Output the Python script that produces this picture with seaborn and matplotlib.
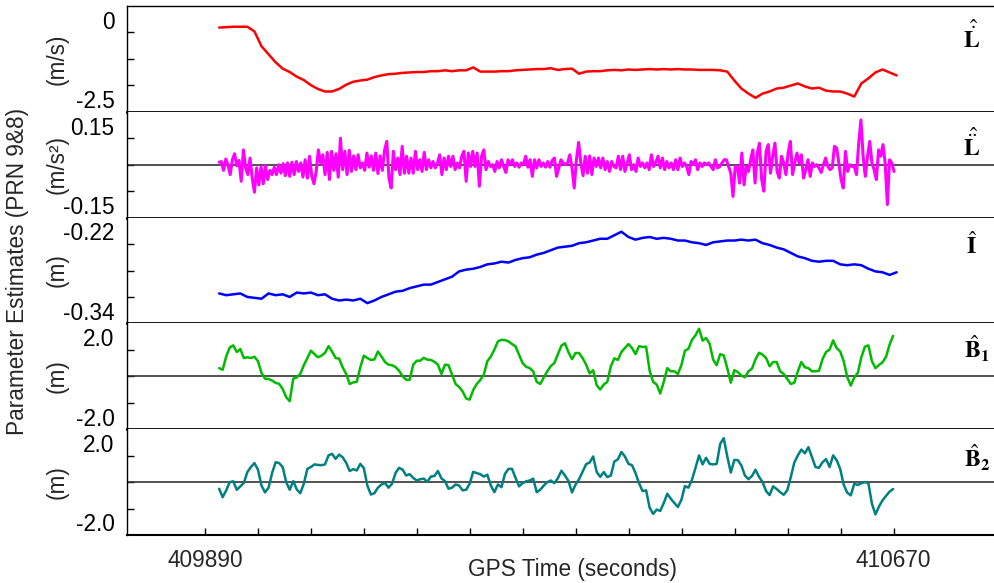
import numpy as np
import pandas as pd
import matplotlib
matplotlib.use("Agg")
import matplotlib.pyplot as plt
import seaborn as sns

# =====================================================
# DATA
# =====================================================
t_start = 409905.5          # GPS time of first sample (s)
step_ldot = 8.0             # sample spacing of each series (s)
step_lddot = 2.5
step_iono = 8.0
step_amb = 4.0

# L-dot (m/s)
ldot = [
    -0.51, -0.50, -0.49, -0.49, -0.49, -0.60, -0.95, -1.14, -1.33, -1.48,
    -1.56, -1.67, -1.75, -1.87, -1.96, -2.02, -2.02, -1.96, -1.86, -1.79,
    -1.76, -1.74, -1.68, -1.64, -1.61, -1.60, -1.58, -1.57, -1.56, -1.56,
    -1.54, -1.54, -1.52, -1.54, -1.52, -1.52, -1.45, -1.55, -1.55, -1.55,
    -1.54, -1.54, -1.52, -1.51, -1.50, -1.49, -1.49, -1.47, -1.51, -1.49,
    -1.48, -1.60, -1.55, -1.54, -1.54, -1.52, -1.51, -1.52, -1.50, -1.51,
    -1.50, -1.49, -1.50, -1.49, -1.50, -1.49, -1.50, -1.50, -1.51, -1.51,
    -1.51, -1.52, -1.55, -1.76, -1.95, -2.07, -2.17, -2.07, -2.02, -1.95,
    -1.93, -1.88, -1.83, -1.90, -1.95, -1.93, -2.00, -2.02, -2.02, -2.07,
    -2.14, -1.83, -1.71, -1.57, -1.50, -1.57, -1.64,
]

# L-double-dot (m/s^2)
lddot = [
    0.007, 0.009, -0.016, 0.016, 0.000, -0.028, 0.014, 0.031, -0.003, 0.012,
    -0.047, 0.042, -0.009, -0.028, 0.019, -0.038, -0.078, -0.009, -0.057, -0.005,
    -0.054, -0.003, -0.042, -0.016, -0.028, -0.007, -0.028, 0.000, -0.024, 0.003,
    -0.031, 0.005, -0.033, 0.007, -0.028, 0.009, -0.019, 0.005, -0.035, 0.014,
    -0.038, 0.024, -0.033, -0.054, -0.019, 0.042, 0.005, 0.028, -0.028, 0.035,
    -0.042, 0.038, -0.016, 0.031, -0.035, 0.075, -0.014, 0.038, -0.028, 0.041,
    -0.019, 0.025, -0.014, 0.028, -0.009, 0.005, -0.016, 0.033, -0.007, 0.025,
    -0.016, 0.033, -0.025, 0.025, -0.016, 0.041, 0.066, -0.038, -0.066, 0.038,
    -0.014, 0.019, -0.028, 0.052, -0.024, 0.024, -0.024, 0.019, -0.024, 0.038,
    -0.014, 0.014, -0.019, 0.035, -0.014, 0.014, -0.009, 0.009, -0.009, 0.005,
    0.028, -0.028, 0.019, -0.014, 0.024, -0.005, 0.024, -0.014, 0.005, -0.009,
    0.024, 0.038, -0.047, 0.033, -0.005, 0.038, -0.005, 0.033, -0.061, 0.024,
    0.042, -0.014, 0.009, -0.005, 0.000, -0.019, 0.009, -0.009, 0.014, -0.005,
    -0.022, 0.014, 0.000, 0.014, -0.005, 0.005, -0.007, 0.005, 0.000, 0.024,
    -0.007, 0.014, -0.033, 0.014, -0.009, 0.014, -0.005, 0.005, -0.007, 0.009,
    -0.007, 0.012, 0.019, -0.033, -0.009, 0.014, 0.005, 0.000, 0.005, 0.028,
    -0.009, -0.066, 0.014, 0.063, 0.005, -0.031, 0.024, -0.024, 0.025, -0.028,
    0.019, -0.005, 0.019, -0.009, 0.019, -0.014, 0.009, -0.019, 0.009, -0.005,
    -0.009, 0.024, -0.014, 0.024, -0.019, 0.005, 0.028, -0.014, 0.000, -0.019,
    0.019, -0.005, 0.005, -0.009, 0.005, -0.014, 0.028, -0.005, 0.007, 0.024,
    -0.009, 0.019, -0.014, 0.009, -0.009, 0.005, -0.014, 0.014, -0.014, 0.019,
    -0.005, 0.005, -0.005, -0.028, 0.009, 0.000, 0.014, -0.014, 0.005, -0.005,
    0.005, 0.000, 0.005, -0.005, -0.014, 0.014, -0.009, -0.005, 0.005, 0.014,
    0.014, -0.005, -0.024, -0.090, -0.005, -0.005, -0.052, 0.033, -0.057, -0.005,
    -0.019, 0.014, 0.042, -0.052, 0.033, 0.061, -0.042, -0.075, 0.038, 0.057,
    -0.024, 0.024, 0.061, -0.019, -0.038, 0.024, 0.005, -0.028, 0.033, 0.066,
    -0.028, 0.005, 0.033, 0.005, 0.028, -0.038, -0.014, 0.014, -0.033, 0.005,
    -0.005, 0.000, -0.009, -0.022, 0.000, 0.019, -0.005, -0.014, -0.009, 0.052,
    0.047, 0.005, -0.042, -0.066, 0.038, -0.019, 0.000, -0.005, -0.005, -0.028,
    0.061, 0.127, 0.024, -0.033, 0.024, 0.066, 0.005, -0.014, -0.042, 0.042,
    0.024, 0.057, 0.005, -0.113, 0.014, 0.005, -0.019,
]

# I (m)
iono = [
    -0.306, -0.308, -0.307, -0.306, -0.310, -0.311, -0.312, -0.306, -0.308, -0.307,
    -0.310, -0.305, -0.306, -0.305, -0.308, -0.307, -0.312, -0.314, -0.313, -0.314,
    -0.312, -0.317, -0.314, -0.310, -0.307, -0.304, -0.303, -0.300, -0.298, -0.296,
    -0.296, -0.293, -0.290, -0.287, -0.281, -0.279, -0.278, -0.276, -0.273, -0.272,
    -0.270, -0.271, -0.268, -0.266, -0.265, -0.262, -0.260, -0.257, -0.254, -0.253,
    -0.252, -0.249, -0.248, -0.246, -0.244, -0.244, -0.240, -0.236, -0.242, -0.245,
    -0.243, -0.242, -0.244, -0.243, -0.244, -0.246, -0.246, -0.248, -0.249, -0.251,
    -0.248, -0.247, -0.246, -0.246, -0.245, -0.246, -0.245, -0.249, -0.251, -0.254,
    -0.256, -0.260, -0.264, -0.266, -0.269, -0.270, -0.269, -0.269, -0.273, -0.274,
    -0.273, -0.274, -0.278, -0.281, -0.282, -0.285, -0.282,
]

# B1 (m)
b1 = [
    0.31, 0.25, 0.75, 1.09, 1.17, 0.92, 1.03, 0.69, 0.72, 0.69,
    0.74, 0.57, 0.13, -0.09, -0.10, -0.16, -0.25, -0.28, -0.48, -0.79,
    -0.94, -0.09, -0.04, 0.09, 0.42, 0.69, 0.97, 0.84, 0.72, 0.78,
    0.89, 1.14, 0.94, 0.69, 0.67, 0.34, 0.09, -0.29, -0.23, -0.21,
    0.34, 0.78, 0.69, 0.62, 0.64, 0.94, 0.75, 0.54, 0.44, 0.42,
    0.35, 0.21, 0.00, -0.13, -0.13, 0.44, 0.59, 0.59, 0.70, 0.63,
    0.62, 0.55, 0.44, 0.09, 0.44, 0.42, 0.06, -0.29, -0.40, -0.57,
    -0.84, -0.88, -0.52, -0.29, -0.14, 0.06, 0.57, 0.75, 1.01, 1.32,
    1.38, 1.37, 1.32, 1.22, 1.13, 0.82, 0.50, 0.36, 0.31, 0.19,
    -0.21, -0.29, -0.04, 0.19, 0.39, 0.50, 0.84, 1.16, 1.25, 0.91,
    0.65, 0.88, 0.88, 0.69, 0.44, 0.11, 0.23, -0.34, -0.50, -0.31,
    -0.21, 0.38, 0.68, 0.62, 0.92, 1.07, 1.22, 1.07, 0.84, 1.14,
    1.11, 1.12, 0.21, -0.21, -0.31, -0.65, -0.21, 0.31, 0.19, 0.19,
    0.09, 0.42, 0.97, 1.04, 1.38, 1.55, 1.80, 1.35, 1.45, 1.23,
    0.63, 0.42, 0.84, 0.79, 0.31, -0.24, 0.23, 0.16, 0.03, -0.04,
    0.19, 0.29, 0.64, 0.89, 0.82, 0.69, 0.38, 0.54, 0.54, 0.19,
    0.09, -0.10, -0.29, -0.24, 0.19, 0.54, 0.34, 0.31, 0.19, 0.19,
    0.21, 0.65, 0.92, 1.01, 1.36, 1.07, 0.94, 0.57, -0.03, -0.35,
    -0.04, 0.13, 0.72, 1.12, 1.17, 0.57, 0.31, 0.43, 0.53, 0.74,
    1.20, 1.53,
]

# B2 (m)
b2 = [
    -0.25, -0.57, -0.31, 0.00, 0.03, -0.29, -0.16, -0.03, 0.38, 0.57,
    0.72, 0.47, -0.13, -0.39, -0.21, 0.34, 0.75, 0.72, 0.57, 0.00,
    -0.29, 0.04, -0.28, -0.42, -0.06, 0.50, 0.57, 0.67, 0.65, 0.64,
    0.67, 1.01, 1.07, 0.88, 1.04, 0.94, 0.73, 0.42, 0.49, 0.44,
    0.69, 0.53, -0.13, -0.47, -0.42, -0.21, -0.09, -0.03, -0.21, -0.06,
    0.35, 0.54, 0.47, 0.25, 0.30, 0.16, 0.06, 0.11, 0.13, 0.01,
    0.21, 0.23, 0.42, 0.14, 0.04, -0.25, -0.21, -0.09, -0.13, -0.31,
    -0.29, -0.06, 0.39, 0.34, 0.30, 0.21, 0.28, -0.13, -0.38, -0.09,
    -0.19, 0.31, 0.50, 0.50, 0.16, -0.16, -0.04, 0.03, 0.06, 0.13,
    -0.38, -0.29, -0.13, 0.00, 0.06, -0.04, 0.15, 0.43, 0.25, 0.04,
    -0.39, -0.09, 0.11, 0.39, 0.68, 0.74, 0.97, 0.38, 0.20, 0.38,
    0.19, 0.25, 0.78, 0.86, 1.14, 0.97, 0.69, 0.64, 0.34, -0.04,
    -0.34, -0.31, -0.97, -1.20, -1.04, -1.09, -0.79, -0.44, -0.63, -0.79,
    -0.94, -0.67, -0.15, -0.21, 0.09, 0.54, 1.01, 0.67, 0.92, 0.69,
    0.67, 0.69, 1.45, 1.66, 0.97, 0.36, 0.84, 0.83, 0.63, 0.25,
    0.11, 0.23, 0.47, 0.20, 0.00, -0.34, -0.49, -0.16, -0.26, -0.38,
    -0.48, -0.31, 0.19, 0.74, 1.01, 1.23, 1.09, 1.32, 0.94, 0.57,
    0.54, 0.75, 0.87, 0.57, 1.01, 0.83, 0.50, -0.10, -0.40, -0.50,
    -0.06, -0.11, -0.04, 0.00, -0.04, -0.82, -1.22, -0.92, -0.69, -0.52,
    -0.36, -0.26,
]

x_labelled = [409890, 410670]
x_tick_every = 60
x_limits = (409801, 410785)

# =====================================================
# STYLE
# =====================================================
sns.set_theme(style="white")
plt.rcParams.update({
    "font.family": ["Liberation Sans", "DejaVu Sans"],
    "mathtext.fontset": "stix",
    "axes.unicode_minus": False,
})
FS = 16.3

panels = [
    dict(y=ldot, step=step_ldot, color="#ff0000", lim=(-2.5, 0.0),
         labels=("-2.5", "0"), unit="(m/s)", sym=r"$\hat{\dot{\mathbf{L}}}$",
         zero=False, sym_y=0.60),
    dict(y=lddot, step=step_lddot, color="#ff00ff", lim=(-0.15, 0.15),
         labels=("-0.15", "0.15"), unit="(m/s²)", sym=r"$\hat{\ddot{\mathbf{L}}}$",
         zero=True, sym_y=0.585),
    dict(y=iono, step=step_iono, color="#0000ff", lim=(-0.34, -0.22),
         labels=("-0.34", "-0.22"), unit="(m)", sym=r"$\hat{\mathbf{I}}$",
         zero=False, sym_y=0.66),
    dict(y=b1, step=step_amb, color="#00bb00", lim=(-2.0, 2.0),
         labels=("-2.0", "2.0"), unit="(m)", sym=r"$\hat{\mathbf{B}}_{\mathbf{1}}$",
         zero=True, sym_y=0.67),
    dict(y=b2, step=step_amb, color="#008080", lim=(-2.0, 2.0),
         labels=("-2.0", "2.0"), unit="(m)", sym=r"$\hat{\mathbf{B}}_{\mathbf{2}}$",
         zero=True, sym_y=0.64),
]

fig, axes = plt.subplots(
    5, 1, figsize=(9.95, 5.83), dpi=100, sharex=True,
    gridspec_kw=dict(hspace=0, left=0.1276, right=1.0, top=0.9897, bottom=0.0823),
)

for i, (ax, p) in enumerate(zip(axes, panels)):
    n = len(p["y"])
    df = pd.DataFrame({"t": t_start + p["step"] * np.arange(n), "v": p["y"]})
    sns.lineplot(data=df, x="t", y="v", ax=ax, color=p["color"],
                 linewidth=2.2 if i == 1 else 1.8, estimator=None)
    if p["zero"]:
        ax.axhline(0, color="0.2", linewidth=1.2, zorder=1)

    lo, hi = p["lim"]
    span = hi - lo
    ax.set_ylim(lo, hi)
    ax.set_xlim(*x_limits)
    # end labels sit just inside the panel edges, with no tick mark
    ax.set_yticks([lo + 0.12 * span, hi - 0.13 * span])
    ax.set_yticklabels(p["labels"])
    ax.set_yticks(np.linspace(lo, hi, 5)[1:-1], minor=True)
    ax.tick_params(axis="y", which="major", length=0, pad=9, labelsize=FS, colors="black")
    ax.tick_params(axis="y", which="minor", left=True, direction="in",
                   length=5, width=1, color="black")
    ax.set_xlabel("")
    ax.set_ylabel("")

    for s in ax.spines.values():
        s.set_color("black")
    ax.spines["right"].set_visible(False)
    ax.spines["top"].set_visible(i == 0)
    ax.spines["top"].set_linewidth(1.0)
    ax.spines["left"].set_linewidth(1.0)
    ax.spines["bottom"].set_linewidth(2.0 if i < 4 else 1.5)

    ax.text(0.9735 if i < 3 else 0.979, p["sym_y"], p["sym"], transform=ax.transAxes,
            ha="center", va="baseline", fontsize=17, color="black")

    pos = ax.get_position()
    fig.text(0.057, (pos.y0 + pos.y1) / 2, p["unit"], rotation=90,
             ha="center", va="center", fontsize=FS)

    if i < 4:
        ax.tick_params(axis="x", which="both", bottom=False, labelbottom=False)

bottom = axes[-1]
bottom.set_xticks(x_labelled)
bottom.set_xticklabels([str(v) for v in x_labelled])
bottom.set_xticks(np.arange(x_labelled[0], x_labelled[1] + 1, x_tick_every), minor=True)
bottom.tick_params(axis="x", which="both", bottom=True, direction="in",
                   length=5, width=1, color="black")
bottom.tick_params(axis="x", which="major", labelsize=FS, pad=10)
bottom.set_xlabel("GPS Time (seconds)", fontsize=FS)
bottom.xaxis.set_label_coords(0.513, -0.22)

fig.text(0.018, 0.535, "Parameter Estimates (PRN 9&8)", rotation=90,
         ha="center", va="center", fontsize=FS)

fig.savefig("out.png", dpi=100, facecolor="white")
plt.close(fig)
